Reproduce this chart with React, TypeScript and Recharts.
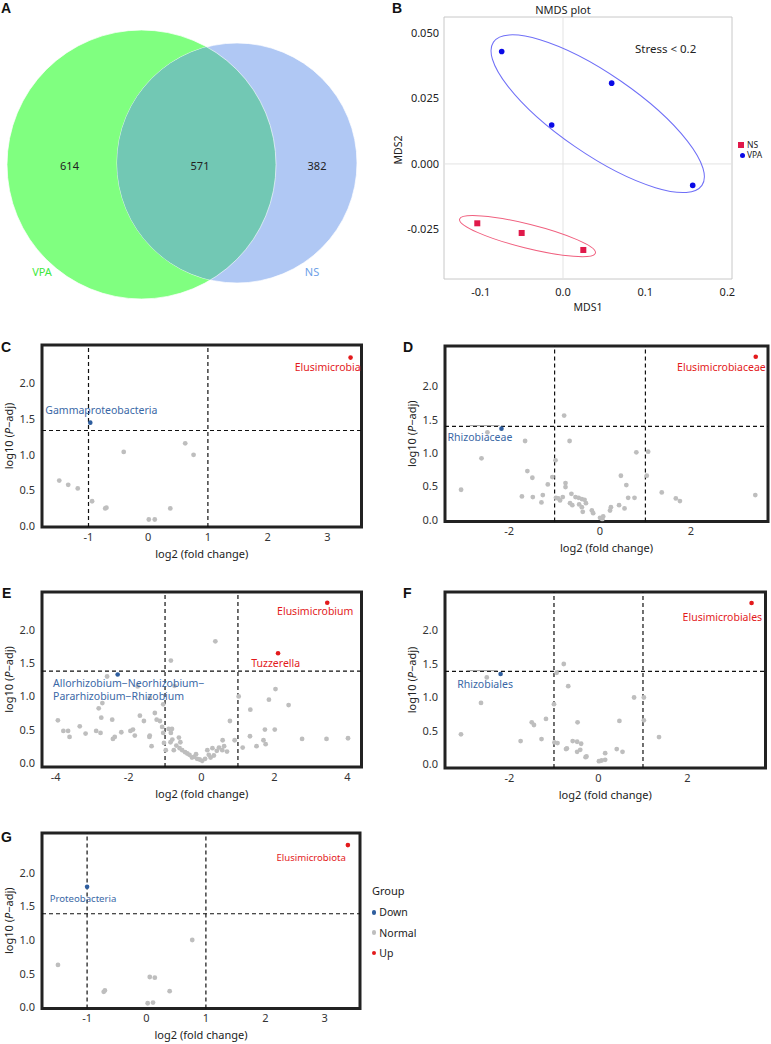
import React from "react";
import {
  ScatterChart,
  Scatter,
  XAxis,
  YAxis,
  ReferenceLine,
  ReferenceArea,
} from "recharts";

const FONT = "'Noto Sans', 'DejaVu Sans', sans-serif";
const INK = "#222";
const GRAY = "#BEBEBE";
const RED = "#E31A1C";
const BLUE = "#2F5E9E";
const BLUE_TXT = "#3A68A6";

// ---------- A: Venn ----------
const vennSetNames = ["VPA", "NS"];
const vennCounts = [614, 571, 382]; // VPA only, shared, NS only

// ---------- B: NMDS ----------
const vpaMds1 = [-0.0746, 0.0592, -0.0138, 0.1578];
const vpaMds2 = [0.043, 0.0309, 0.0149, -0.0082];
const nsMds1 = [-0.1043, -0.0503, 0.0247];
const nsMds2 = [-0.0227, -0.0264, -0.0329];
const ellipseCenters = [
  { group: "VPA", x: 0.0422, y: 0.0192 },
  { group: "NS", x: -0.0432, y: -0.0276 },
];
const mds1Ticks = [-0.1, 0, 0.1, 0.2];
const mds2Ticks = [-0.025, 0, 0.025, 0.05];

// ---------- C-G: volcano plots (log2 fold change, -log10 p-adj) ----------
const pTicks = [0, 0.5, 1, 1.5, 2];
const fcCutoffs = [-1, 1];

const cNormal = [
  [-1.49, 0.64], [-1.34, 0.58], [-1.18, 0.53], [-0.94, 0.35], [-0.72, 0.25],
  [-0.7, 0.26], [-0.41, 1.04], [0.01, 0.095], [0.11, 0.095], [0.37, 0.25],
  [0.62, 1.16], [0.76, 1.0],
];
const cUp = [{ name: "Elusimicrobia", fc: 3.39, p: 2.36 }];
const cDown = [{ name: "Gammaproteobacteria", fc: -0.97, p: 1.45 }];

const dNormal = [
  [-0.79, 1.56], [-2.48, 1.31], [-1.65, 1.18], [-0.67, 1.18], [-2.61, 0.92],
  [-0.98, 0.89], [0.8, 1.01], [1.06, 1.02], [-1.6, 0.73], [-1.49, 0.63],
  [-1.05, 0.64], [-1.15, 0.53], [-0.76, 0.55], [-0.76, 0.49], [0.46, 0.66],
  [0.58, 0.52], [1.03, 0.66], [-3.06, 0.45], [-1.72, 0.35], [-1.48, 0.34],
  [-1.26, 0.37], [-1.29, 0.26], [-0.97, 0.33], [-0.88, 0.29], [-0.82, 0.34],
  [-0.92, 0.32], [-0.63, 0.39], [-0.54, 0.34], [-0.47, 0.33], [-0.4, 0.31],
  [-0.34, 0.3], [-0.66, 0.25], [-0.61, 0.22], [-0.46, 0.23], [-0.4, 0.19],
  [-0.31, 0.25], [-0.38, 0.12], [-0.18, 0.14], [-0.15, 0.1], [0, 0.03],
  [0.07, 0.05], [0.05, 0.01], [0.22, 0.14], [0.24, 0.19], [0.42, 0.22],
  [0.54, 0.17], [0.62, 0.33], [0.76, 0.33], [1.36, 0.41], [1.67, 0.32],
  [1.76, 0.28], [3.42, 0.37],
];
const dUp = [{ name: "Elusimicrobiaceae", fc: 3.43, p: 2.44 }];
const dDown = [{ name: "Rhizobiaceae", fc: -2.17, p: 1.365 }];

const eNormal = [
  [0.38, 1.83], [-0.84, 1.54], [-2.59, 1.3], [-1.75, 1.15], [-0.74, 1.16],
  [-1.42, 0.98], [-2.72, 0.9], [-2.82, 0.82], [-1.05, 0.88], [1.02, 1.0],
  [2.03, 1.11], [1.85, 0.95], [2.39, 0.87], [1.34, 0.8], [-1.28, 0.75],
  [-1.69, 0.71], [-2.75, 0.68], [-2.45, 0.65], [-3.94, 0.64], [-1.58, 0.63],
  [-1.23, 0.65], [-1.14, 0.63], [0.78, 0.63], [-3.79, 0.48], [-3.66, 0.48],
  [-3.34, 0.55], [-3.62, 0.39], [-3.18, 0.44], [-2.89, 0.48], [-2.77, 0.45],
  [-2.43, 0.36], [-2.38, 0.39], [-2.2, 0.46], [-1.95, 0.48], [-1.88, 0.5],
  [-1.83, 0.41], [-1.43, 0.39], [-1.42, 0.41], [-1.37, 0.25], [-1.05, 0.45],
  [-0.9, 0.51], [-0.81, 0.51], [-0.84, 0.45], [-1.03, 0.3], [-0.85, 0.31],
  [-0.8, 0.35], [-0.98, 0.19], [-0.62, 0.38], [-0.58, 0.31], [-0.69, 0.26],
  [-0.76, 0.19], [-0.53, 0.19], [-0.39, 0.14], [-0.26, 0.08], [-0.12, 0.06],
  [0.02, 0.03], [0.16, 0.19], [0.25, 0.08], [0.34, 0.11], [0.48, 0.23],
  [0.57, 0.19], [0.7, 0.17], [0.58, 0.34], [0.91, 0.34], [1.13, 0.23],
  [1.33, 0.4], [1.51, 0.25], [1.7, 0.34], [1.74, 0.5], [1.76, 0.28],
  [2.01, 0.5], [2.76, 0.36], [3.43, 0.36], [4.02, 0.37], [-0.45, 0.16],
  [-0.33, 0.12], [-0.2, 0.09], [-0.05, 0.05], [0.1, 0.06], [0.2, 0.12],
  [0.42, 0.18], [0.62, 0.25], [-0.6, 0.22], [-0.15, 0.13], [0.3, 0.22],
  [-1.08, 0.54],
];
const eUp = [
  { name: "Elusimicrobium", fc: 3.45, p: 2.41 },
  { name: "Tuzzerella", fc: 2.1, p: 1.65 },
];
const eDown = [
  { name: "Allorhizobium−Neorhizobium−Pararhizobium−Rhizobium", fc: -2.3, p: 1.33 },
];

const fNormal = [
  [-0.78, 1.5], [-0.94, 1.37], [-2.51, 1.3], [-0.68, 1.17], [-2.64, 0.92],
  [-1.0, 0.9], [0.8, 1.0], [1.02, 1.0], [-1.5, 0.63], [-1.45, 0.59],
  [-1.18, 0.68], [-0.47, 0.63], [0.47, 0.65], [1.02, 0.66], [-3.09, 0.45],
  [1.36, 0.41], [-1.75, 0.35], [-1.28, 0.38], [-0.99, 0.33], [-0.92, 0.32],
  [-0.58, 0.35], [-0.48, 0.34], [-0.39, 0.31], [-0.73, 0.23], [-0.71, 0.24],
  [-0.48, 0.19], [-0.41, 0.22], [-0.29, 0.11], [-0.27, 0.12], [0.01, 0.05],
  [0.07, 0.06], [0.15, 0.07], [0.15, 0.17], [0.41, 0.23], [0.54, 0.19],
];
const fUp = [{ name: "Elusimicrobiales", fc: 3.44, p: 2.41 }];
const fDown = [{ name: "Rhizobiales", fc: -2.2, p: 1.35 }];

const gNormal = [
  [-1.49, 0.63], [-0.72, 0.23], [-0.7, 0.25], [0.055, 0.45], [0.14, 0.44],
  [0.02, 0.06], [0.11, 0.07], [0.39, 0.24], [0.77, 1.0],
];
const gUp = [{ name: "Elusimicrobiota", fc: 3.39, p: 2.41 }];
const gDown = [{ name: "Proteobacteria", fc: -1.0, p: 1.79 }];

const groupNames = ["Down", "Normal", "Up"];

// ---------- layout ----------
const vennLayout = {
  circles: [
    { x: 141.5, y: 164.5, r: 134.5, fill: "#80FF80" },
    { x: 237, y: 163, r: 120, fill: "#B0C8F4" },
  ],
  lensFill: "#72C8B4",
  counts: [{ x: 69.5, y: 166 }, { x: 200, y: 166 }, { x: 317, y: 166 }],
  names: [
    { x: 42, y: 272, color: "#3EE83E" },
    { x: 312, y: 272, color: "#6E9FE8" },
  ],
};

const ellipseShape: Record<string, { a: number; b: number; angle: number; stroke: string }> = {
  VPA: { a: 126.5, b: 40, angle: 34.5, stroke: "#6F6FF7" },
  NS: { a: 70, b: 12, angle: 14, stroke: "#F0607F" },
};

type LabelSpec = {
  anchor: "start" | "middle" | "end";
  dx: number;
  dy: number;
  size: number;
  breakAt?: number;
  leader?: [number, number, number];
};

const labelLayout: Record<string, LabelSpec> = {
  Elusimicrobia: { anchor: "end", dx: 10, dy: 10, size: 10.5 },
  Gammaproteobacteria: { anchor: "start", dx: -45, dy: -12, size: 10.5 },
  Elusimicrobiaceae: { anchor: "end", dx: 10, dy: 11, size: 10.5 },
  Rhizobiaceae: { anchor: "start", dx: -54, dy: 8.4, size: 10.5, leader: [-32, -2, -3] },
  Elusimicrobium: { anchor: "middle", dx: -12, dy: 8.4, size: 10.5 },
  Tuzzerella: { anchor: "middle", dx: -2.4, dy: 10, size: 10.5 },
  "Allorhizobium−Neorhizobium−Pararhizobium−Rhizobium": {
    anchor: "start", dx: -64.6, dy: 9, size: 10.5, breakAt: 27,
  },
  Elusimicrobiales: { anchor: "end", dx: 10.6, dy: 14.6, size: 10.5 },
  Rhizobiales: { anchor: "start", dx: -43.4, dy: 10, size: 10.5, leader: [-33.4, -3.4, -3.4] },
  Elusimicrobiota: { anchor: "end", dx: -2, dy: 12.3, size: 9.6 },
  Proteobacteria: { anchor: "start", dx: -37.4, dy: 12, size: 9.6 },
};

const Txt = ({ x, y, size = 11, anchor = "start", color = INK, bold = false, family = FONT, children }: any) => (
  <div
    style={{
      position: "absolute",
      left: x,
      top: y,
      transform: `translate(${anchor === "middle" ? "-50%" : anchor === "end" ? "-100%" : "0"}, -50%)`,
      fontSize: size,
      lineHeight: 1,
      color,
      fontWeight: bold ? 700 : 400,
      fontFamily: family,
      whiteSpace: "nowrap",
    }}
  >
    {children}
  </div>
);

const PanelLetter = ({ x, y, children }: any) => (
  <Txt x={x} y={y} size={14} bold family="'Liberation Sans', Arial, sans-serif" color="#111">
    {children}
  </Txt>
);

// ---------- shapes ----------
const grayDot = (props: any) => <circle cx={props.cx} cy={props.cy} r={2.4} fill={GRAY} />;

const labelledDot = (fill: string, textFill: string) => (props: any) => {
  const { cx, cy, payload } = props;
  const spec = labelLayout[payload.name];
  const lines = spec.breakAt
    ? [payload.name.slice(0, spec.breakAt), payload.name.slice(spec.breakAt)]
    : [payload.name];
  return (
    <g>
      {spec.leader && (
        <line
          x1={cx + spec.leader[0]}
          x2={cx + spec.leader[1]}
          y1={cy + spec.leader[2]}
          y2={cy + spec.leader[2]}
          stroke="#9A9A9A"
          strokeWidth={1}
        />
      )}
      <circle cx={cx} cy={cy} r={2.3} fill={fill} />
      {lines.map((t: string, i: number) => (
        <text
          key={i}
          x={cx + spec.dx}
          y={cy + spec.dy + i * 13.3}
          dy="0.35em"
          textAnchor={spec.anchor}
          fontSize={spec.size}
          fontFamily={FONT}
          fill={textFill}
        >
          {t}
        </text>
      ))}
    </g>
  );
};

// ---------- volcano panel ----------
const ML = 48, MT = 8, MR = 8, MB = 40;

const VolcanoPanel = ({ frame, xDomain, yDomain, xTicks, pCut, normal, up, down }: any) => {
  const fw = frame.right - frame.left;
  const fh = frame.bottom - frame.top;
  const toPts = (arr: number[][]) => arr.map(([fc, p]) => ({ x: fc, y: p }));
  const toNamed = (arr: any[]) => arr.map((d) => ({ x: d.fc, y: d.p, name: d.name }));
  const tickStyle = { fontSize: 11, fill: "#333", fontFamily: FONT };
  return (
    <div style={{ position: "absolute", left: frame.left - ML, top: frame.top - MT }}>
      <ScatterChart width={fw + ML + MR} height={fh + MT + MB} margin={{ top: MT, right: MR, bottom: 0, left: 0 }}>
        <XAxis
          type="number"
          dataKey="x"
          domain={xDomain}
          ticks={xTicks}
          allowDataOverflow
          height={MB}
          tickLine={false}
          axisLine={false}
          tickSize={6}
          tickMargin={0}
          tick={tickStyle}
          interval={0}
          label={{
            content: () => (
              <text x={ML + fw / 2} y={MT + fh + 27} dy="0.35em" textAnchor="middle" fontSize={11} fontFamily={FONT} fill={INK}>
                log2 (fold change)
              </text>
            ),
          }}
        />
        <YAxis
          type="number"
          dataKey="y"
          domain={yDomain}
          ticks={pTicks}
          allowDataOverflow
          width={ML}
          tickLine={false}
          axisLine={false}
          tickSize={7}
          tickMargin={0}
          tick={tickStyle}
          interval={0}
          tickFormatter={(v: number) => v.toFixed(1)}
          label={{
            content: () => {
              const lx = ML - 33;
              const ly = MT + fh / 2;
              return (
                <text x={lx} y={ly} dy="0.35em" transform={`rotate(-90 ${lx} ${ly})`} textAnchor="middle" fontSize={11} fontFamily={FONT} fill={INK}>
                  log10 (<tspan fontStyle="italic">P</tspan>−adj)
                </text>
              );
            },
          }}
        />
        {fcCutoffs.map((c) => (
          <ReferenceLine key={c} x={c} stroke="#111" strokeDasharray="4 3" strokeWidth={1.2} />
        ))}
        <ReferenceLine y={pCut} stroke="#111" strokeDasharray="4 3" strokeWidth={1.2} />
        <Scatter data={toPts(normal)} shape={grayDot} isAnimationActive={false} />
        <Scatter data={toNamed(down)} shape={labelledDot(BLUE, BLUE_TXT)} isAnimationActive={false} />
        <Scatter data={toNamed(up)} shape={labelledDot(RED, RED)} isAnimationActive={false} />
        <ReferenceArea x1={xDomain[0]} x2={xDomain[1]} y1={yDomain[0]} y2={yDomain[1]} fill="none" fillOpacity={0} stroke="#222" strokeWidth={3} />
      </ScatterChart>
    </div>
  );
};

// ---------- Venn panel ----------
const VENN_W = 390, VENN_H = 300;

const vennCircleShape = (props: any) => (
  <circle cx={props.cx} cy={props.cy} r={props.payload.r} fill={props.payload.fill} stroke="#fff" strokeOpacity={0.7} strokeWidth={1} />
);

const vennLensShape = (props: any) => {
  const [g, b] = vennLayout.circles;
  const bx = props.cx + (b.x - g.x);
  const by = props.cy + (b.y - g.y);
  return (
    <g>
      <defs>
        <clipPath id="vennLensClip">
          <circle cx={bx} cy={by} r={b.r} />
        </clipPath>
      </defs>
      <circle cx={props.cx} cy={props.cy} r={g.r} fill={vennLayout.lensFill} clipPath="url(#vennLensClip)" />
      <circle cx={props.cx} cy={props.cy} r={g.r} fill="none" stroke="#fff" strokeOpacity={0.6} clipPath="url(#vennLensClip)" />
    </g>
  );
};

const vennTextShape = (props: any) => (
  <text x={props.cx} y={props.cy} dy="0.35em" textAnchor="middle" fontSize={11} fontFamily={FONT} fill={props.payload.color}>
    {props.payload.label}
  </text>
);

const VennPanel = () => {
  const circles = vennLayout.circles.map((c, i) => ({ ...c, set: vennSetNames[i] }));
  const lens = [{ x: vennLayout.circles[0].x, y: vennLayout.circles[0].y }];
  const counts = vennCounts.map((n, i) => ({ ...vennLayout.counts[i], label: String(n), color: INK }));
  const names = vennSetNames.map((s, i) => ({ x: vennLayout.names[i].x, y: vennLayout.names[i].y, label: s, color: vennLayout.names[i].color }));
  return (
    <div style={{ position: "absolute", left: 0, top: 0 }}>
      <ScatterChart width={VENN_W} height={VENN_H} margin={{ top: 0, right: 0, bottom: 0, left: 0 }}>
        <XAxis type="number" dataKey="x" domain={[0, VENN_W]} hide allowDataOverflow />
        <YAxis type="number" dataKey="y" domain={[0, VENN_H]} hide reversed allowDataOverflow />
        <Scatter data={circles} shape={vennCircleShape} isAnimationActive={false} />
        <Scatter data={lens} shape={vennLensShape} isAnimationActive={false} />
        <Scatter data={counts} shape={vennTextShape} isAnimationActive={false} />
        <Scatter data={names} shape={vennTextShape} isAnimationActive={false} />
      </ScatterChart>
    </div>
  );
};

// ---------- NMDS panel ----------
const NM = { left: 390, width: 381, height: 320, top: 17, right: 39, yw: 54, xh: 41 };
const mds1Domain = [-0.1448, 0.2056];
const mds2Domain = [-0.044, 0.0562];

const ellipseDraw = (props: any) => {
  const s = ellipseShape[props.payload.group];
  return (
    <ellipse
      cx={props.cx}
      cy={props.cy}
      rx={s.a}
      ry={s.b}
      transform={`rotate(${s.angle} ${props.cx} ${props.cy})`}
      fill="none"
      stroke={s.stroke}
      strokeWidth={1}
    />
  );
};
const vpaDot = (props: any) => <circle cx={props.cx} cy={props.cy} r={2.8} fill="#0A0AE6" />;
const nsSquare = (props: any) => <rect x={props.cx - 3} y={props.cy - 3} width={6} height={6} fill="#E0194A" />;

const NmdsPanel = () => {
  const vpa = vpaMds1.map((x, i) => ({ x, y: vpaMds2[i] }));
  const ns = nsMds1.map((x, i) => ({ x, y: nsMds2[i] }));
  const tickStyle = { fontSize: 11, fill: INK, fontFamily: FONT };
  const plotW = NM.width - NM.yw - NM.right;
  const plotH = NM.height - NM.top - NM.xh;
  return (
    <div style={{ position: "absolute", left: NM.left, top: 0 }}>
      <ScatterChart width={NM.width} height={NM.height} margin={{ top: NM.top, right: NM.right, bottom: 0, left: 0 }}>
        <XAxis
          type="number"
          dataKey="x"
          domain={mds1Domain}
          ticks={mds1Ticks}
          allowDataOverflow
          height={NM.xh}
          tickLine={false}
          axisLine={false}
          tickMargin={3}
          tick={tickStyle}
          interval={0}
          tickFormatter={(v: number) => v.toFixed(1)}
          label={{
            content: () => (
              <text x={NM.yw + plotW / 2} y={NM.top + plotH + 28} dy="0.35em" textAnchor="middle" fontSize={10.5} fontFamily={FONT} fill={INK}>
                MDS1
              </text>
            ),
          }}
        />
        <YAxis
          type="number"
          dataKey="y"
          domain={mds2Domain}
          ticks={mds2Ticks}
          allowDataOverflow
          width={NM.yw}
          tickLine={false}
          axisLine={false}
          tickSize={5}
          tickMargin={0}
          tick={tickStyle}
          interval={0}
          tickFormatter={(v: number) => v.toFixed(3)}
          label={{
            content: () => (
              <text x={8} y={150} dy="0.35em" transform="rotate(-90 8 150)" textAnchor="middle" fontSize={10.5} fontFamily={FONT} fill={INK}>
                MDS2
              </text>
            ),
          }}
        />
        <ReferenceLine x={0} stroke="#E3E3E3" strokeWidth={1} />
        <ReferenceLine y={0} stroke="#E3E3E3" strokeWidth={1} />
        <Scatter data={ellipseCenters} shape={ellipseDraw} isAnimationActive={false} />
        <Scatter data={ns} shape={nsSquare} isAnimationActive={false} />
        <Scatter data={vpa} shape={vpaDot} isAnimationActive={false} />
        <ReferenceArea x1={mds1Domain[0]} x2={mds1Domain[1]} y1={mds2Domain[0]} y2={mds2Domain[1]} fill="none" fillOpacity={0} stroke="#C8C8C8" strokeWidth={1} />
      </ScatterChart>
    </div>
  );
};

// ---------- page ----------
export default function App() {
  return (
    <div
      style={{
        position: "absolute",
        left: 0,
        top: 0,
        width: 771,
        height: 1044,
        overflow: "hidden",
        background: "#fff",
        fontFamily: FONT,
      }}
    >
      <VennPanel />
      <NmdsPanel />

      <VolcanoPanel
        frame={{ left: 41.5, top: 344.5, right: 361, bottom: 526.5 }}
        xDomain={[-1.779, 3.573]}
        yDomain={[-0.01, 2.536]}
        xTicks={[-1, 0, 1, 2, 3]}
        pCut={1.34}
        normal={cNormal}
        up={cUp}
        down={cDown}
      />
      <VolcanoPanel
        frame={{ left: 445, top: 346, right: 768, bottom: 521.5 }}
        xDomain={[-3.414, 3.7]}
        yDomain={[-0.025, 2.602]}
        xTicks={[-2, 0, 2]}
        pCut={1.4}
        normal={dNormal}
        up={dUp}
        down={dDown}
      />
      <VolcanoPanel
        frame={{ left: 41.5, top: 591.5, right: 361, bottom: 766.5 }}
        xDomain={[-4.376, 4.39]}
        yDomain={[-0.063, 2.572]}
        xTicks={[-4, -2, 0, 2, 4]}
        pCut={1.38}
        normal={eNormal}
        up={eUp}
        down={eDown}
      />
      <VolcanoPanel
        frame={{ left: 445, top: 591.5, right: 765.5, bottom: 767.5 }}
        xDomain={[-3.449, 3.753]}
        yDomain={[-0.052, 2.575]}
        xTicks={[-2, 0, 2]}
        pCut={1.39}
        normal={fNormal}
        up={fUp}
        down={fDown}
      />
      <VolcanoPanel
        frame={{ left: 42.2, top: 833, right: 360.2, bottom: 1008.5 }}
        xDomain={[-1.759, 3.594]}
        yDomain={[-0.018, 2.59]}
        xTicks={[-1, 0, 1, 2, 3]}
        pCut={1.39}
        normal={gNormal}
        up={gUp}
        down={gDown}
      />

      {/* NMDS annotations */}
      <Txt x={563} y={9} size={11} anchor="middle">NMDS plot</Txt>
      <Txt x={635} y={49} size={11.5}>Stress &lt; 0.2</Txt>
      <div style={{ position: "absolute", left: 738, top: 142, width: 6, height: 6, background: "#E0194A" }} />
      <Txt x={747} y={145} size={8.5}>NS</Txt>
      <div style={{ position: "absolute", left: 739.5, top: 152.5, width: 5, height: 5, borderRadius: "50%", background: "#0A0AE6" }} />
      <Txt x={747} y={155} size={8.5}>VPA</Txt>

      {/* volcano legend */}
      <Txt x={372} y={890} size={11}>Group</Txt>
      {groupNames.map((g, i) => (
        <React.Fragment key={g}>
          <div
            style={{
              position: "absolute",
              left: 371.7,
              top: 910 + i * 20.4,
              width: 4.6,
              height: 4.6,
              borderRadius: "50%",
              background: [BLUE, GRAY, RED][i],
            }}
          />
          <Txt x={379.3} y={912.3 + i * 20.4} size={10.5}>{g}</Txt>
        </React.Fragment>
      ))}

      <PanelLetter x={1} y={8}>A</PanelLetter>
      <PanelLetter x={392} y={8}>B</PanelLetter>
      <PanelLetter x={1} y={347}>C</PanelLetter>
      <PanelLetter x={403} y={347}>D</PanelLetter>
      <PanelLetter x={2} y={593}>E</PanelLetter>
      <PanelLetter x={403} y={593}>F</PanelLetter>
      <PanelLetter x={1} y={837}>G</PanelLetter>
    </div>
  );
}
